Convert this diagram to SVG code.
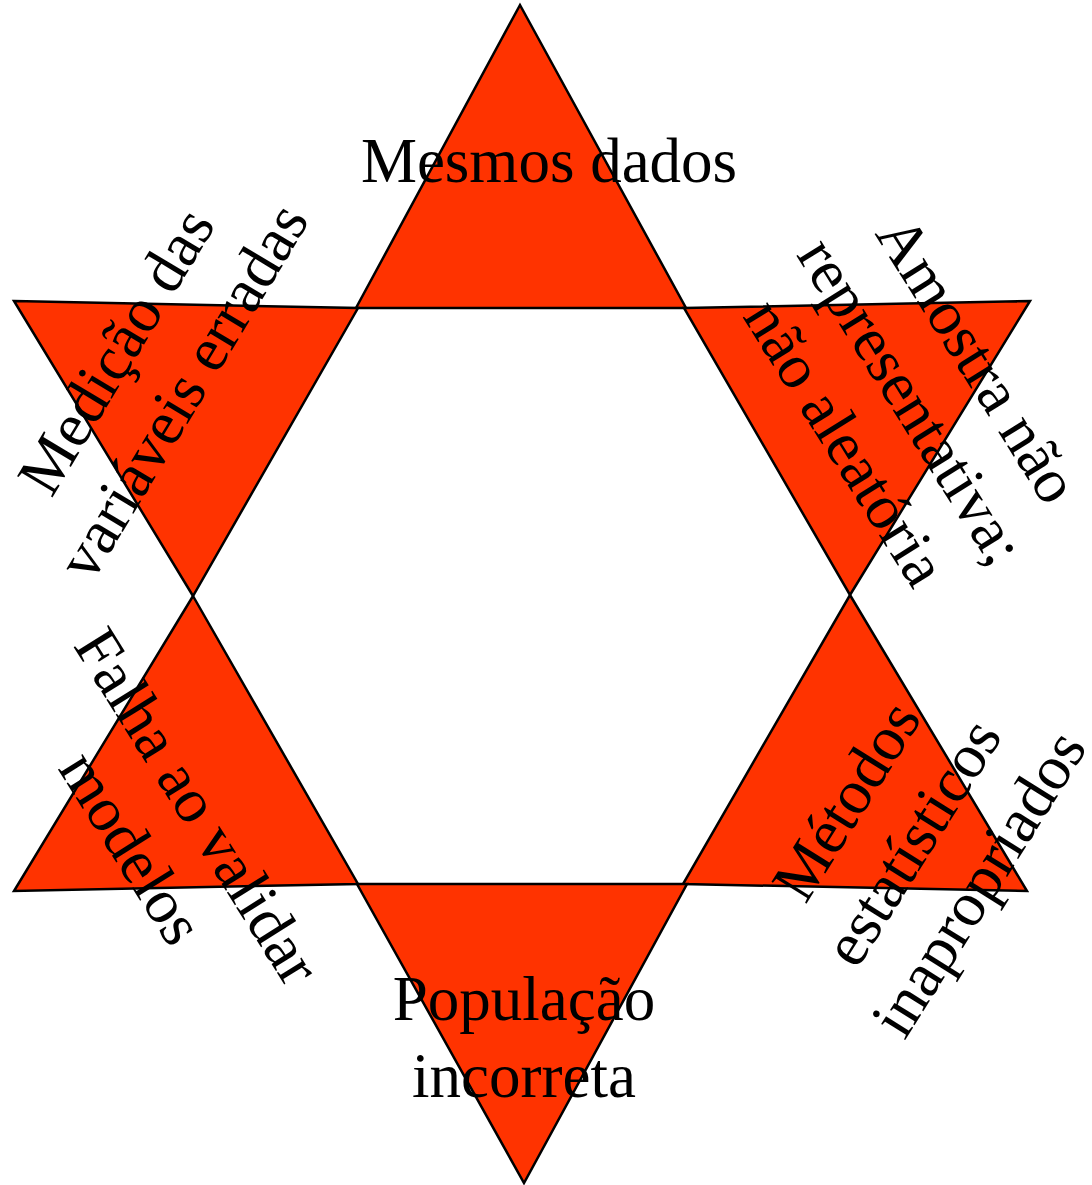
<svg xmlns="http://www.w3.org/2000/svg" width="1092" height="1185" viewBox="0 0 1092 1185">
<style>
.tri{fill:#FF3300;stroke:#000;stroke-width:2.5;stroke-linejoin:miter}
.lbl{font-family:"Liberation Serif","Times New Roman",serif;font-size:63px;fill:#000;text-anchor:middle}
</style>
<rect width="1092" height="1185" fill="#fff"/>
<g id="tri-top"><polygon class="tri" points="520,5 686,308 356,308"/></g>
<g id="tri-upper-left"><polygon class="tri" points="14,301 358,308 193,596"/></g>
<g id="tri-upper-right"><polygon class="tri" points="684,308 1030,301 850,595"/></g>
<g id="tri-lower-left"><polygon class="tri" points="193,596 358,884 14,891"/></g>
<g id="tri-lower-right"><polygon class="tri" points="850,595 1027,891 683,884"/></g>
<g id="tri-bottom"><polygon class="tri" points="357,884 687,884 524,1183"/></g>
<g id="labels">
<text class="lbl" x="549" y="182">Mesmos dados</text>
<text class="lbl"><tspan x="524" y="1020">População</tspan><tspan x="524" y="1097">incorreta</tspan></text>
<g transform="translate(151,372) rotate(-59)"><text class="lbl"><tspan x="0" y="-20">Medição das</tspan><tspan x="0" y="58">variáveis erradas</tspan></text></g>
<g transform="translate(910,402) rotate(58)"><text class="lbl"><tspan x="0" y="-59">Amostra não</tspan><tspan x="0" y="19">representativa;</tspan><tspan x="0" y="97">não aleatória</tspan></text></g>
<g transform="translate(163,828) rotate(58)"><text class="lbl"><tspan x="0" y="-20">Falha ao validar</tspan><tspan x="0" y="58">modelos</tspan></text></g>
<g transform="translate(914,843) rotate(-58)"><text class="lbl"><tspan x="0" y="-59">Métodos</tspan><tspan x="0" y="19">estatísticos</tspan><tspan x="0" y="97">inapropriados</tspan></text></g>
</g>
</svg>
